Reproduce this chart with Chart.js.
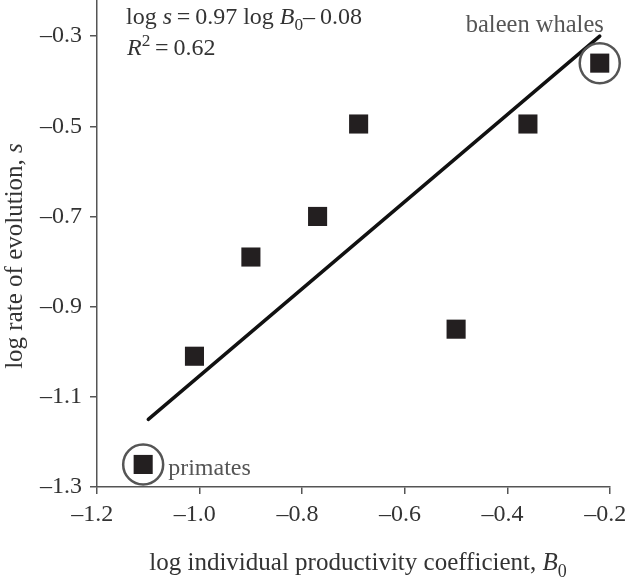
<!DOCTYPE html>
<html>
<head>
<meta charset="utf-8">
<script src="https://cdn.jsdelivr.net/npm/chart.js@4.4.1/dist/chart.umd.min.js"></script>
<style>
  html, body { margin: 0; padding: 0; background: #fff; }
  #wrap { width: 628px; height: 580px; position: relative; }
</style>
</head>
<body>
<div id="wrap"><canvas id="chart"></canvas></div>
<script>
// ---- data ----
const taxaX = [-1.11, -1.01, -0.90, -0.77, -0.69, -0.50, -0.36, -0.22];
const taxaY = [-1.25, -1.01, -0.79, -0.70, -0.495, -0.95, -0.495, -0.36];
const circledX = [-1.11, -0.22];          // primates, baleen whales
const circledY = [-1.25, -0.36];
const fitX = [-1.10, -0.22];              // regression line ends
const fitY = [-1.15, -0.30];
const xTicks = [-1.2, -1.0, -0.8, -0.6, -0.4, -0.2];
const yTicks = [-1.3, -1.1, -0.9, -0.7, -0.5, -0.3];

const SERIF = "'Liberation Serif', 'DejaVu Serif', serif";
const AXIS = "#555";
const INK = "#333";

const fmt = (v) => (v < 0 ? "\u2013" : "") + Math.abs(v).toFixed(1);
const pts = (xs, ys) => xs.map((x, i) => ({ x: x, y: ys[i] }));

// draw a run of text pieces (italic / subscript / superscript)
function runs(ctx, parts, x, y, size, align) {
  const fontOf = (p) => (p.it ? "italic " : "") + ((p.sub || p.sup) ? size * 0.72 : size) + "px " + SERIF;
  let w = 0;
  parts.forEach((p) => { ctx.font = fontOf(p); w += ctx.measureText(p.t).width; });
  let cx = align === "center" ? x - w / 2 : x;
  ctx.textAlign = "left";
  ctx.textBaseline = "alphabetic";
  parts.forEach((p) => {
    ctx.font = fontOf(p);
    const dy = p.sub ? size * 0.26 : p.sup ? -size * 0.38 : 0;
    ctx.fillText(p.t, cx, y + dy);
    cx += ctx.measureText(p.t).width;
  });
}

const labels = {
  id: "labels",
  afterDraw(chart) {
    const ctx = chart.ctx, xs = chart.scales.x, ys = chart.scales.y;
    ctx.save();
    ctx.fillStyle = INK;
    // regression text
    runs(ctx, [{ t: "log " }, { t: "s", it: true }, { t: "\u2009=\u20090.97 log " }, { t: "B", it: true }, { t: "0", sub: true }, { t: "\u2013\u20090.08" }], 126, 24, 24, "left");
    runs(ctx, [{ t: "R", it: true }, { t: "2", sup: true }, { t: "\u2009=\u20090.62" }], 127, 55, 24, "left");
    // point labels
    ctx.fillStyle = "#555";
    runs(ctx, [{ t: "primates" }], xs.getPixelForValue(circledX[0]) + 25, ys.getPixelForValue(circledY[0]) + 11, 24, "left");
    runs(ctx, [{ t: "baleen whales" }], xs.getPixelForValue(circledX[1]) - 134, ys.getPixelForValue(circledY[1]) - 31, 24.5, "left");
    // axis titles
    ctx.fillStyle = INK;
    runs(ctx, [{ t: "log individual productivity coefficient, " }, { t: "B", it: true }, { t: "0", sub: true }], 358, 570, 25, "center");
    ctx.translate(22, 256);
    ctx.rotate(-Math.PI / 2);
    runs(ctx, [{ t: "log rate of evolution, " }, { t: "s", it: true }], 0, 0, 25, "center");
    ctx.restore();
  },
};

const axisCommon = {
  grid: { drawOnChartArea: false, drawTicks: true, tickLength: 7, color: AXIS, lineWidth: 1.5 },
  border: { display: true, color: AXIS, width: 1.5 },
};
const noPad = (s) => { s.paddingLeft = 0; s.paddingRight = 0; s.paddingTop = 0; s.paddingBottom = 0; };

new Chart(document.getElementById("chart"), {
  type: "scatter",
  data: {
    datasets: [
      { label: "fit", type: "line", data: pts(fitX, fitY), borderColor: "#111", borderWidth: 3.5, borderCapStyle: "round",
        pointRadius: 0, fill: false, clip: false, order: 3 },
      { label: "circled", data: pts(circledX, circledY), pointStyle: "circle", pointRadius: 20, backgroundColor: "rgba(0,0,0,0)",
        borderColor: "#555", borderWidth: 2.5, clip: false, order: 2 },
      { label: "taxa", data: pts(taxaX, taxaY), pointStyle: "rect", pointRadius: 13.5, backgroundColor: "#231f20",
        borderWidth: 0, clip: false, order: 1 },
    ],
  },
  options: {
    responsive: true,
    maintainAspectRatio: false,
    animation: false,
    layout: { autoPadding: false, padding: { top: 0, right: 18, left: 0, bottom: 0 } },
    plugins: { legend: { display: false }, tooltip: { enabled: false } },
    scales: {
      x: {
        ...axisCommon,
        min: -1.2, max: -0.2,
        afterBuildTicks: (s) => { s.ticks = xTicks.map((v) => ({ value: v })); },
        afterFit: (s) => { s.height = 93; noPad(s); },
        // trailing thin spaces nudge the labels left, like the original
        ticks: { color: INK, padding: 6, font: { family: SERIF, size: 24 }, callback: (v) => fmt(v) + "\u2009\u2009", maxRotation: 0 },
      },
      y: {
        ...axisCommon,
        min: -1.3, max: -0.22,
        afterBuildTicks: (s) => { s.ticks = yTicks.map((v) => ({ value: v })); },
        afterFit: (s) => { s.width = 97; noPad(s); },
        ticks: { color: INK, padding: 8, font: { family: SERIF, size: 24 }, callback: (v) => fmt(v) },
      },
    },
  },
  plugins: [labels],
});
</script>
</body>
</html>
